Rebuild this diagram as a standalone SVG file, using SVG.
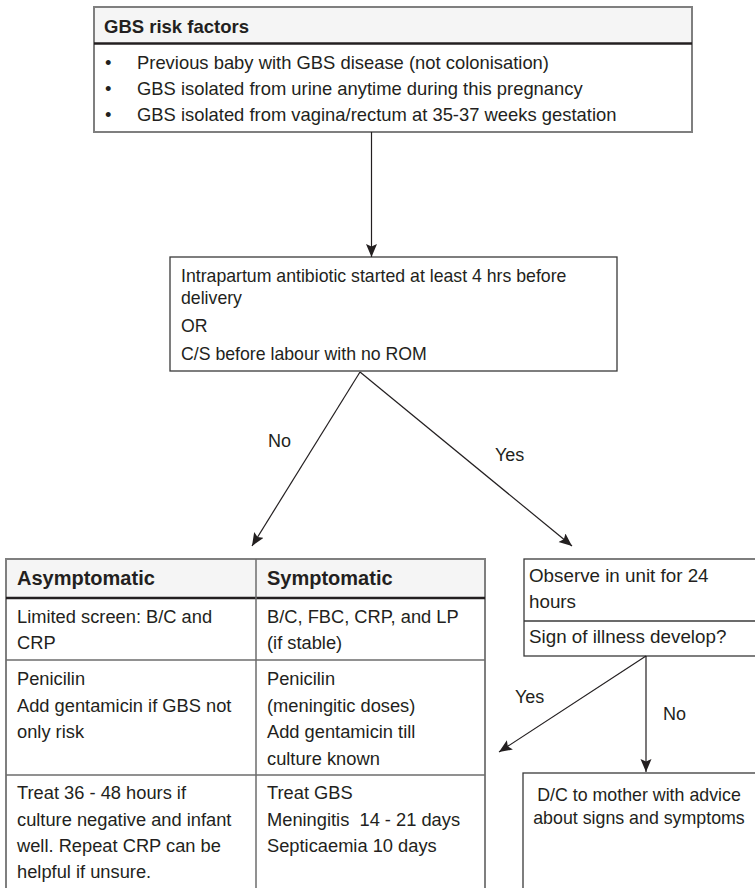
<svg xmlns="http://www.w3.org/2000/svg" width="755" height="888" viewBox="0 0 755 888">
<style>
text{font-family:"Liberation Sans",Arial,sans-serif;fill:#231f20}
.b16{font-size:18.4px}
.hd{font-size:18.5px;font-weight:bold}
.t18{font-size:17.7px}
.tb{font-size:18.3px}
.th{font-size:20px;font-weight:bold}
.r18{font-size:18.8px}
.dc{font-size:17.8px}
.lbl{font-size:18px}
.outer{fill:#fff;stroke:#7f7f7f;stroke-width:2}
.hfill{fill:#f5f5f5;stroke:none}
.thick{stroke:#231f20;stroke-width:2.5}
.grid{stroke:#6d6d6d;stroke-width:1.5}
.box{fill:#fff;stroke:#3a3a3a;stroke-width:1.3}
.conn{stroke:#231f20;stroke-width:1.2;fill:none}
</style>
<defs>
<marker id="ah" markerUnits="userSpaceOnUse" markerWidth="14" markerHeight="12" refX="13" refY="5.5" orient="auto">
<path d="M0,0 L13,5.5 L0,11 L2.5,5.5 z" fill="#231f20"/>
</marker>
</defs>

<g id="gbs-risk-factors">
<rect class="outer" x="94" y="7" width="598" height="125"/>
<rect class="hfill" x="95" y="8" width="596" height="35"/>
<line class="thick" x1="94" y1="43.5" x2="692" y2="43.5"/>
<text class="hd" x="104" y="33">GBS risk factors</text>
<text class="b16" x="105" y="69">•</text>
<text class="b16" x="137" y="69">Previous baby with GBS disease (not colonisation)</text>
<text class="b16" x="105" y="95">•</text>
<text class="b16" x="137" y="95">GBS isolated from urine anytime during this pregnancy</text>
<text class="b16" x="105" y="121">•</text>
<text class="b16" x="137" y="121">GBS isolated from vagina/rectum at 35-37 weeks gestation</text>
</g>

<g id="intrapartum">
<rect class="box" x="170" y="257" width="447" height="114"/>
<text class="t18" x="181" y="282">Intrapartum antibiotic started at least 4 hrs before</text>
<text class="t18" x="181" y="304">delivery</text>
<text class="t18" x="181" y="332">OR</text>
<text class="t18" x="181" y="360">C/S before labour with no ROM</text>
</g>

<g id="treatment-table">
<rect class="outer" x="6" y="559" width="479" height="340"/>
<rect class="hfill" x="7" y="560" width="477" height="38"/>
<line class="thick" x1="6" y1="598" x2="485" y2="598"/>
<line class="grid" x1="256" y1="559" x2="256" y2="890"/>
<line class="grid" x1="6" y1="660" x2="485" y2="660"/>
<line class="grid" x1="6" y1="775" x2="485" y2="775"/>
<text class="th" x="17" y="585">Asymptomatic</text>
<text class="th" x="267" y="585">Symptomatic</text>
<text class="tb" x="17" y="623">Limited screen: B/C and</text>
<text class="tb" x="17" y="649">CRP</text>
<text class="tb" x="267" y="623">B/C, FBC, CRP, and LP</text>
<text class="tb" x="267" y="649">(if stable)</text>
<text class="tb" x="17" y="685">Penicilin</text>
<text class="tb" x="17" y="712">Add gentamicin if GBS not</text>
<text class="tb" x="17" y="738">only risk</text>
<text class="tb" x="267" y="685">Penicilin</text>
<text class="tb" x="267" y="712">(meningitic doses)</text>
<text class="tb" x="267" y="738">Add gentamicin till</text>
<text class="tb" x="267" y="765">culture known</text>
<text class="tb" x="17" y="799">Treat 36 - 48 hours if</text>
<text class="tb" x="17" y="826">culture negative and infant</text>
<text class="tb" x="17" y="852">well. Repeat CRP can be</text>
<text class="tb" x="17" y="878">helpful if unsure.</text>
<text class="tb" x="267" y="799">Treat GBS</text>
<text class="tb" x="267" y="826">Meningitis&#160; 14 - 21 days</text>
<text class="tb" x="267" y="852">Septicaemia 10 days</text>
</g>

<g id="observe">
<rect class="box" x="524" y="559" width="240" height="97"/>
<line class="box" x1="524" y1="621" x2="760" y2="621"/>
<text class="r18" x="529" y="582">Observe in unit for 24</text>
<text class="r18" x="529" y="608">hours</text>
<text class="r18" x="529" y="643">Sign of illness develop?</text>
</g>

<g id="discharge">
<rect class="box" x="523" y="773" width="240" height="130"/>
<text class="dc" x="639" y="801" text-anchor="middle">D/C to mother with advice</text>
<text class="dc" x="639" y="824" text-anchor="middle">about signs and symptoms</text>
</g>

<g id="connectors">
<line class="conn" x1="371.5" y1="132" x2="371.5" y2="257" marker-end="url(#ah)"/>
<line class="conn" x1="360" y1="372" x2="252" y2="546" marker-end="url(#ah)"/>
<line class="conn" x1="360" y1="372" x2="572" y2="546" marker-end="url(#ah)"/>
<line class="conn" x1="646" y1="656" x2="646" y2="772" marker-end="url(#ah)"/>
<line class="conn" x1="646" y1="656" x2="499" y2="752" marker-end="url(#ah)"/>
<text class="lbl" x="268" y="447">No</text>
<text class="lbl" x="495" y="461">Yes</text>
<text class="lbl" x="515" y="703">Yes</text>
<text class="lbl" x="663" y="720">No</text>
</g>
</svg>
